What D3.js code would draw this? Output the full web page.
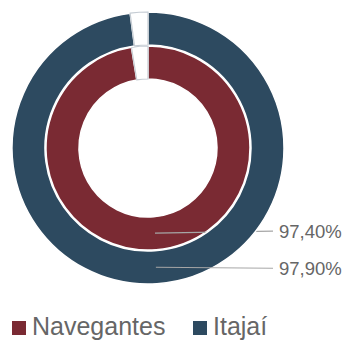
<!DOCTYPE html>
<html>
<head>
<meta charset="utf-8">
<script src="https://cdn.jsdelivr.net/npm/d3@7"></script>
<style>
  body { margin: 0; background: #fff; }
  svg { display: block; }
</style>
</head>
<body>
<div id="donut"></div>
<script>
// series, inner ring first
const seriesNames = ['Navegantes', 'Itajaí']
const seriesValues = [97.4, 97.9]
const seriesColors = ['#7a2a33', '#2d4a60']
const valueLabels = ['97,40%', '97,90%']

const width = 350
const height = 340
const cx = 148
const cy = 148

// [inner, outer] radius per ring
const rings = [[69, 102], [103, 136]]

const svg = d3.select('#donut')
  .append('svg')
  .attr('width', width)
  .attr('height', height)

const g = svg.append('g')
  .attr('transform', 'translate(' + cx + ',' + cy + ')')

const pie = d3.pie()
  .sort(null)
  .value(function (d) { return d })

seriesValues.forEach(function (val, i) {
  const arc = d3.arc()
    .innerRadius(rings[i][0])
    .outerRadius(rings[i][1])

  const slices = pie([val, 100 - val])

  g.selectAll('.ring' + i)
    .data(slices)
    .enter()
    .append('path')
    .attr('class', 'ring' + i)
    .attr('d', arc)
    .style('fill', function (d, j) { return j === 0 ? seriesColors[i] : '#fff' })
    .style('stroke', function (d, j) { return j === 0 ? '#fff' : '#c5ccd3' })
    .style('stroke-width', function (d, j) { return j === 0 ? 1.5 : 1.2 })

  // leader line + label
  const c = arc.centroid(slices[0])
  const ly = c[1] + (i === 0 ? -2 : 1)
  g.append('line')
    .attr('x1', c[0])
    .attr('y1', c[1])
    .attr('x2', 273 - cx)
    .attr('y2', ly)
    .style('stroke', '#a6a6a6')
    .style('stroke-width', 1.2)

  g.append('text')
    .attr('x', 279 - cx)
    .attr('y', ly)
    .attr('dy', '0.36em')
    .style('font-family', 'Liberation Sans, Arial, sans-serif')
    .style('font-size', '18.5px')
    .style('fill', '#666')
    .text(valueLabels[i])
})

// legend
const legend = svg.append('g')
  .attr('transform', 'translate(12,321)')

const legendX = [0, 181]
seriesNames.forEach(function (name, i) {
  const item = legend.append('g')
    .attr('transform', 'translate(' + legendX[i] + ',0)')
  item.append('rect')
    .attr('width', 14)
    .attr('height', 14)
    .style('fill', seriesColors[i])
  item.append('text')
    .attr('x', 20)
    .attr('y', 14)
    .style('font-family', 'Liberation Sans, Arial, sans-serif')
    .style('font-size', '25px')
    .style('fill', '#666')
    .text(name)
})
</script>
</body>
</html>
